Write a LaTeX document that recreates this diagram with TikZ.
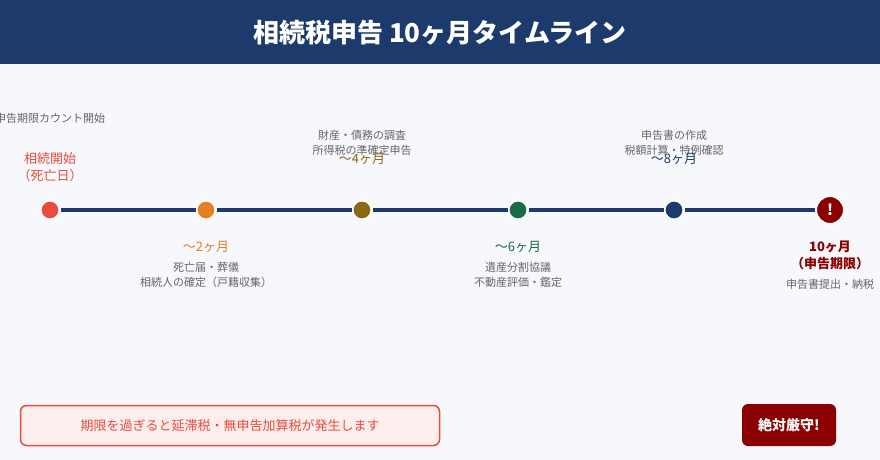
\documentclass[tikz,border=0pt]{standalone}
\usepackage{fontspec}
\setmainfont{Noto Sans CJK JP}
\usepackage{tikz}
\usetikzlibrary{positioning}

\definecolor{navy}{HTML}{1C3A6B}
\definecolor{pagebg}{HTML}{F7F8FC}
\definecolor{msred}{HTML}{E74C3C}
\definecolor{msorange}{HTML}{E67E22}
\definecolor{msgold}{HTML}{8B6914}
\definecolor{msgreen}{HTML}{1A6B47}
\definecolor{deadred}{HTML}{8B0000}
\definecolor{txtgray}{HTML}{666666}
\definecolor{warnfill}{HTML}{FDEEEE}

\begin{document}
\begin{tikzpicture}[x=1pt, y=-1pt,
        ms/.style={circle, draw=white, line width=2pt,
                   minimum size=19pt, inner sep=0pt},
        tl/.style={line width=4pt, navy},
        month/.style={font=\fontsize{13}{17}\selectfont, align=center},
        note/.style={font=\fontsize{11}{15}\selectfont, text=txtgray, align=center},
        warnbox/.style={rectangle, draw=msred, line width=1.5pt, fill=warnfill,
                        rounded corners=6pt, minimum width=419pt, minimum height=40pt,
                        text=msred, font=\fontsize{13}{15}\selectfont},
        badge/.style={rectangle, fill=deadred, rounded corners=6pt,
                      minimum width=94pt, minimum height=42pt,
                      text=white, font=\fontsize{14}{16}\selectfont\bfseries}
    ]
        \useasboundingbox (0,0) rectangle (880,460);
        \fill[pagebg] (0,0) rectangle (880,460);
        \fill[navy] (0,0) rectangle (880,64);
        \node[text=white, font=\fontsize{26}{29}\selectfont\bfseries] (ttl) at (440,33)
            {相続税申告 10ヶ月タイムライン};

        % milestones on the line
        \node[ms, fill=msred]    (m0)  at (50,210)  {};
        \node[ms, fill=msorange] (m2)  at (206,210) {};
        \node[ms, fill=msgold]   (m4)  at (362,210) {};
        \node[ms, fill=msgreen]  (m6)  at (518,210) {};
        \node[ms, fill=navy]     (m8)  at (674,210) {};
        \node[ms, fill=deadred, minimum size=28pt, text=white,
              font=\fontsize{15}{15}\selectfont\bfseries] (m10) at (830,210) {!};
        \draw[tl] (m0)--(m2); \draw[tl] (m2)--(m4); \draw[tl] (m4)--(m6);
        \draw[tl] (m6)--(m8); \draw[tl] (m8)--(m10);

        % labels
        \node[note] (cnt) at (50,118) {申告期限カウント開始};
        \node[month, text=msred] (d0) at (50,167.5) {相続開始\\（死亡日）};
        \node[month, text=msorange] (d2) at (206,247) {～2ヶ月};
        \node[note] (t2) at (206,275) {死亡届・葬儀\\相続人の確定（戸籍収集）};
        \node[note] (t4) at (362,142.5) {財産・債務の調査\\所得税の準確定申告};
        \node[month, text=msgold] (d4) at (362,159) {～4ヶ月};
        \node[month, text=msgreen] (d6) at (518,247) {～6ヶ月};
        \node[note] (t6) at (518,275) {遺産分割協議\\不動産評価・鑑定};
        \node[note] (t8) at (674,142.5) {申告書の作成\\税額計算・特例確認};
        \node[month, text=navy] (d8) at (674,159) {～8ヶ月};
        \node[month, text=deadred, font=\fontsize{13}{17}\selectfont\bfseries] (d10) at (830,255.5)
            {10ヶ月\\（申告期限）};
        \node[note] (t10) at (830,284) {申告書提出・納税};

        % bottom
        \node[warnbox] (warn) at (230,425.5) {期限を過ぎると延滞税・無申告加算税が発生します};
        \node[badge] (must) at (789,425) {絶対厳守!};
    \end{tikzpicture}
\end{document}
